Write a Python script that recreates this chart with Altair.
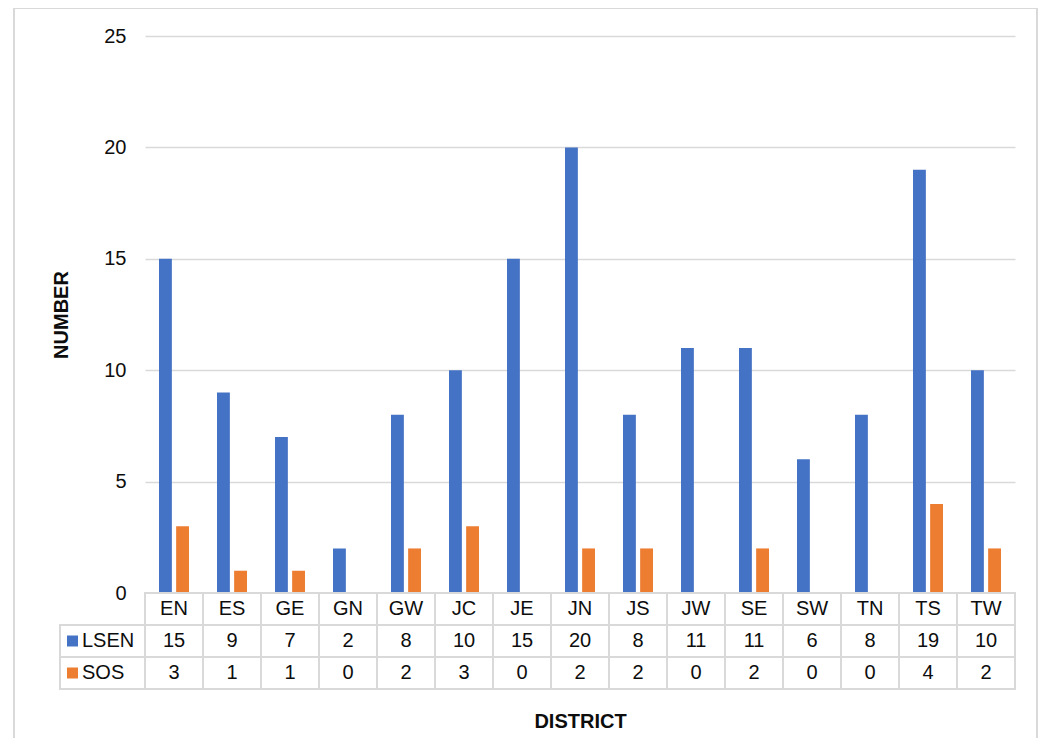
import altair as alt
import pandas as pd

# ---- data ----
districts = ["EN", "ES", "GE", "GN", "GW", "JC", "JE", "JN", "JS", "JW", "SE", "SW", "TN", "TS", "TW"]
lsen = [15, 9, 7, 2, 8, 10, 15, 20, 8, 11, 11, 6, 8, 19, 10]
sos = [3, 1, 1, 0, 2, 3, 0, 2, 2, 0, 2, 0, 0, 4, 2]
series_names = ["LSEN", "SOS"]
series_colors = ["#4472C4", "#ED7D31"]
y_ticks = [0, 5, 10, 15, 20, 25]

# ---- style ----
W, H = 870, 557
ROW_H = 32
LBL_W = 85
FONT = "Liberation Sans"
GRAY = "#d9d9d9"
TXT = "#0d0d0d"

n = len(districts)
bars_df = pd.DataFrame({
    "district": districts * 2,
    "series": ["LSEN"] * n + ["SOS"] * n,
    "value": lsen + sos,
})

rows = ["hdr"] + series_names
table_df = pd.DataFrame({
    "district": districts * 3,
    "row": ["hdr"] * n + ["LSEN"] * n + ["SOS"] * n,
    "label": districts + [str(v) for v in lsen] + [str(v) for v in sos],
})
lbl_df = pd.DataFrame({"col": ["lbl", "lbl"], "row": series_names, "series": series_names})

x_bar = alt.Scale(domain=districts, paddingInner=0.483, paddingOuter=0.2415)
row_scale = alt.Scale(domain=rows, range=[H, H + ROW_H * 3], paddingInner=0, paddingOuter=0)
col_scale = alt.Scale(domain=districts, range=[0, W], paddingInner=0, paddingOuter=0)
lblcol_scale = alt.Scale(domain=["lbl"], range=[-LBL_W, 0], paddingInner=0, paddingOuter=0)
color_scale = alt.Scale(domain=series_names, range=series_colors)

bars = alt.Chart(bars_df).mark_bar().encode(
    x=alt.X("district:N", scale=x_bar, sort=districts,
            axis=alt.Axis(title="DISTRICT", labels=False, ticks=False, domain=False, grid=False,
                          titlePadding=118, titleFontSize=20, titleFont=FONT,
                          titleFontWeight="bold", titleColor=TXT)),
    xOffset=alt.XOffset("series:N", scale=alt.Scale(domain=series_names, paddingInner=0.25)),
    y=alt.Y("value:Q", scale=alt.Scale(domain=[0, 25]),
            axis=alt.Axis(values=y_ticks, title="NUMBER", grid=True, gridColor=GRAY, gridWidth=1.5,
                          domain=False, ticks=False, labelFontSize=20, labelFont=FONT,
                          labelColor=TXT, labelPadding=19, titleFontSize=20,
                          titleFontWeight="bold", titleFont=FONT, titleColor=TXT,
                          titlePadding=32)),
    color=alt.Color("series:N", scale=color_scale, legend=None),
)

cells = alt.Chart(table_df).mark_rect(fill="white", stroke=GRAY, strokeWidth=2).encode(
    x=alt.X("district:N", scale=col_scale, axis=None),
    y=alt.Y("row:N", scale=row_scale, axis=None),
)
cell_text = alt.Chart(table_df).mark_text(font=FONT, fontSize=20, color=TXT,
                                          baseline="middle", align="center").encode(
    x=alt.X("district:N", scale=col_scale, axis=None),
    y=alt.Y("row:N", scale=row_scale, axis=None),
    text="label:N",
)

lbl_cells = alt.Chart(lbl_df).mark_rect(fill="white", stroke=GRAY, strokeWidth=2).encode(
    x=alt.X("col:N", scale=lblcol_scale, axis=None),
    y=alt.Y("row:N", scale=row_scale, axis=None),
)
# positions are relative to the centre of the label column
lbl_sq = alt.Chart(lbl_df).mark_square(size=121, opacity=1, xOffset=-30).encode(
    x=alt.X("col:N", scale=lblcol_scale, axis=None),
    y=alt.Y("row:N", scale=row_scale, axis=None),
    color=alt.Color("series:N", scale=color_scale, legend=None),
)
lbl_txt = alt.Chart(lbl_df).mark_text(font=FONT, fontSize=20, color=TXT, baseline="middle",
                                      align="left", xOffset=-20.5).encode(
    x=alt.X("col:N", scale=lblcol_scale, axis=None),
    y=alt.Y("row:N", scale=row_scale, axis=None),
    text="series:N",
)

frame = alt.Chart(pd.DataFrame({"k": [0]})).mark_rect(filled=False, stroke=GRAY, strokeWidth=2).encode(
    x=alt.value(-131), x2=alt.value(892), y=alt.value(-28), y2=alt.value(800)
)

chart = alt.layer(frame, bars, cells, cell_text, lbl_cells, lbl_sq, lbl_txt).resolve_scale(
    x="independent", y="independent"
).properties(
    width=W, height=H,
    autosize=alt.AutoSizeParams(type="none"),
    padding={"left": 137, "top": 28, "right": 23, "bottom": 145},
    background="white",
).configure_view(stroke="transparent")

chart.save("out.html", embed_options={"renderer": "svg", "actions": False})
